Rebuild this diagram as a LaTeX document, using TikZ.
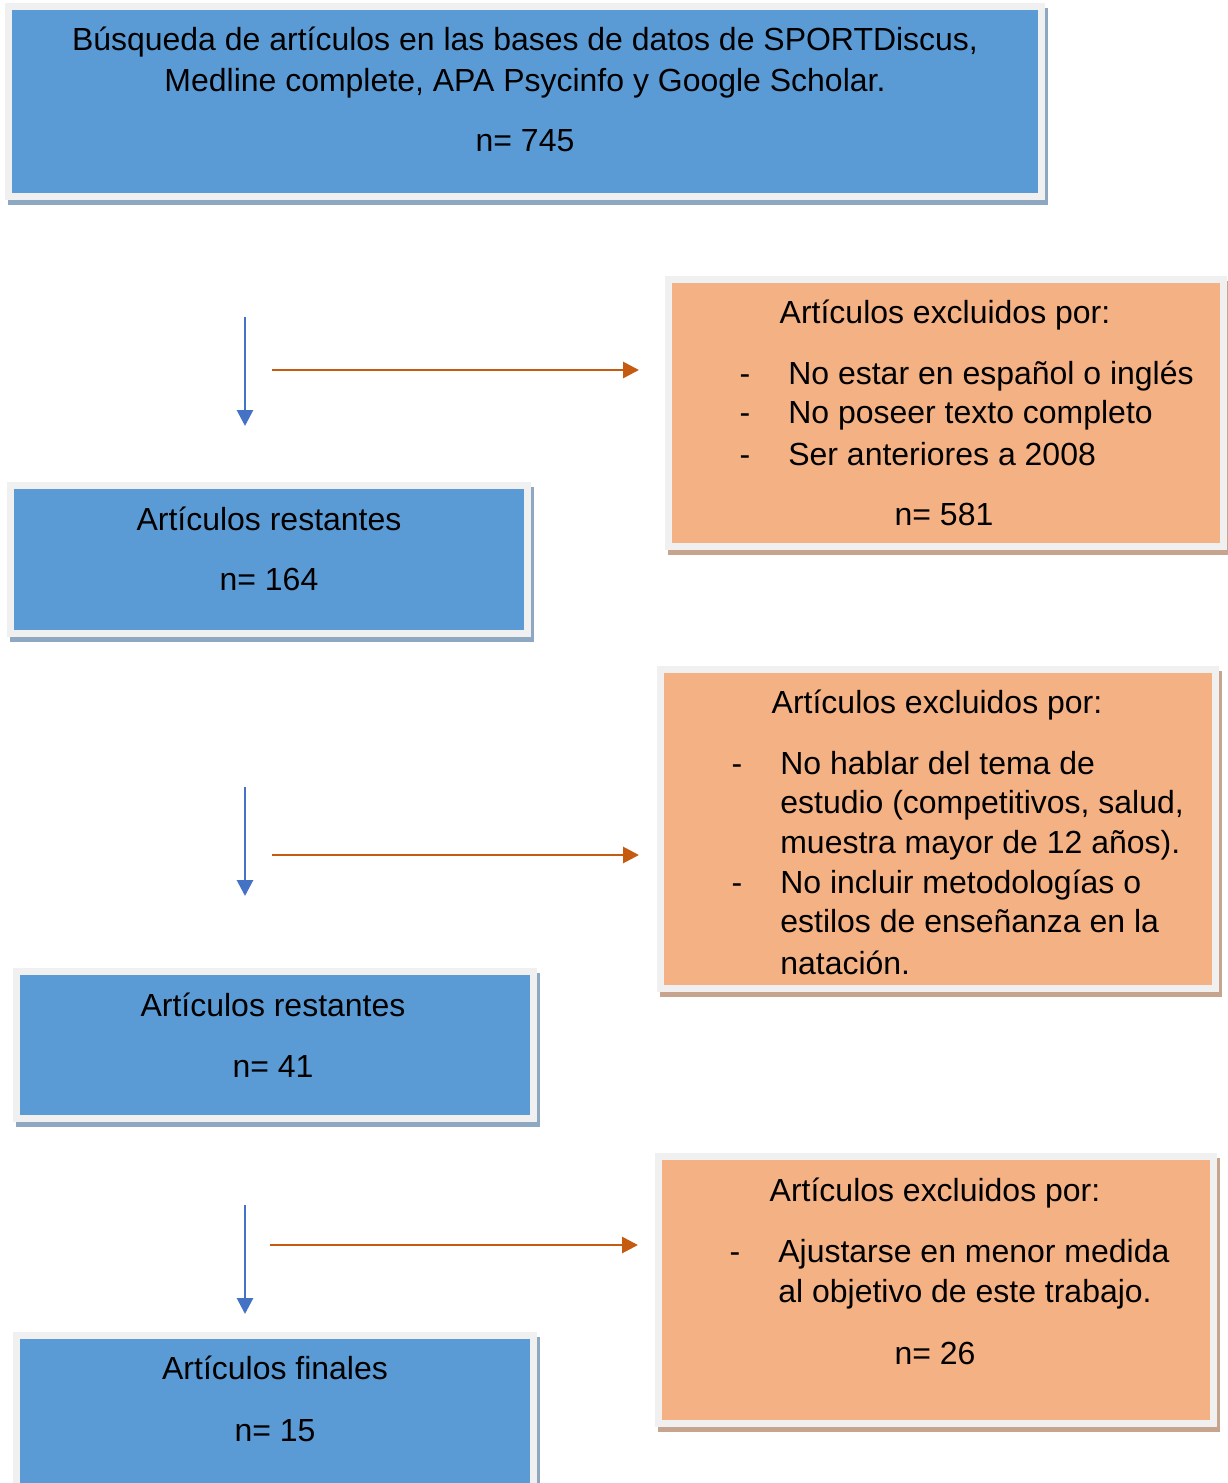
\documentclass[tikz,border=0pt]{standalone}
\usepackage{fontspec}
\setmainfont{Liberation Sans}
\usetikzlibrary{arrows.meta,fit}

\definecolor{boxblue}{HTML}{5B9BD5}
\definecolor{boxorange}{HTML}{F4B183}
\definecolor{framegray}{HTML}{F0F0F0}
\definecolor{shadeblue}{HTML}{8FA8C2}
\definecolor{shadeorange}{HTML}{C6A48E}
\definecolor{arrowblue}{HTML}{4472C4}
\definecolor{arroworange}{HTML}{C55A11}

\tikzset{
  boxframe/.style={draw=framegray, line width=4pt, inner sep=0pt},
  bluebox/.style={boxframe, fill=boxblue,
    preaction={draw=shadeblue, fill=shadeblue, line width=4pt,
      transform canvas={shift={(1.7pt,-2.8pt)}}}},
  orangebox/.style={boxframe, fill=boxorange,
    preaction={draw=shadeorange, fill=shadeorange, line width=4pt,
      transform canvas={shift={(1.7pt,-2.8pt)}}}},
  txt/.style={font=\fontsize{18.2pt}{22pt}\selectfont, inner sep=0pt, anchor=base},
  item/.style={txt, anchor=base west},
  down/.style={draw=arrowblue, line width=1.6pt, -{Triangle[width=9pt,length=9pt]}},
  toexcl/.style={draw=arroworange, line width=1.6pt, -{Triangle[width=9pt,length=9pt]}}
}

\begin{document}
\begin{tikzpicture}[x=0.02cm, y=-0.02cm]
\useasboundingbox (0,0) rectangle (1227,1483);

% Remaining articles
\node[bluebox, fit={(8.5,6.5) (1041.5,196.5)}] (search) {};
\node[bluebox, fit={(10.5,485.5) (527.5,633.5)}] (rest1) {};
\node[bluebox, fit={(16.5,971.5) (533.5,1118.5)}] (rest2) {};
\node[bluebox, fit={(16.5,1335.5) (533.5,1500)}] (final) {};

% Excluded articles
\node[orangebox, fit={(668.5,279.5) (1223.5,546.5)}] (excl1) {};
\node[orangebox, fit={(660.5,669.5) (1215.5,988.5)}] (excl2) {};
\node[orangebox, fit={(658.5,1156.5) (1213.5,1423.5)}] (excl3) {};

% Texts
\node[txt] (t1a) at (525,51) {Búsqueda de artículos en las bases de datos de SPORTDiscus,};
\node[txt] (t1b) at (525,92) {Medline complete, APA Psycinfo y Google Scholar.};
\node[txt] (t1n) at (525,152) {n= 745};

\node[txt] (t2a) at (269,530) {Artículos restantes};
\node[txt] (t2n) at (269,590) {n= 164};

\node[txt] (t3a) at (273,1016) {Artículos restantes};
\node[txt] (t3n) at (273,1077) {n= 41};

\node[txt] (t4a) at (275,1379) {Artículos finales};
\node[txt] (t4n) at (275,1441) {n= 15};

\node[txt] (e1a) at (945,323) {Artículos excluidos por:};
\node[txt] (e1d1) at (745,384) {-};
\node[txt] (e1d2) at (745,423) {-};
\node[txt] (e1d3) at (745,465) {-};
\node[item] (e1i1) at (788,384) {No estar en español o inglés};
\node[item] (e1i2) at (788,423) {No poseer texto completo};
\node[item] (e1i3) at (788,465) {Ser anteriores a 2008};
\node[txt] (e1n) at (944,525) {n= 581};

\node[txt] (e2a) at (937,713) {Artículos excluidos por:};
\node[txt] (e2d1) at (737,774) {-};
\node[txt] (e2d2) at (737,893) {-};
\node[item] (e2i1) at (780,774) {No hablar del tema de};
\node[item] (e2i2) at (780,813) {estudio (competitivos, salud,};
\node[item] (e2i3) at (780,853) {muestra mayor de 12 años).};
\node[item] (e2i4) at (780,893) {No incluir metodologías o};
\node[item] (e2i5) at (780,932) {estilos de enseñanza en la};
\node[item] (e2i6) at (780,974) {natación.};

\node[txt] (e3a) at (935,1201) {Artículos excluidos por:};
\node[txt] (e3d1) at (735,1262) {-};
\node[item] (e3i1) at (778,1262) {Ajustarse en menor medida};
\node[item] (e3i2) at (778,1302) {al objetivo de este trabajo.};
\node[txt] (e3n) at (935,1364) {n= 26};

% Arrows
\coordinate (d1s) at (245,317);  \coordinate (d1e) at (245,426);
\coordinate (d2s) at (245,787);  \coordinate (d2e) at (245,896);
\coordinate (d3s) at (245,1205); \coordinate (d3e) at (245,1314);
\coordinate (r1s) at (272,370);  \coordinate (r1e) at (639,370);
\coordinate (r2s) at (272,855);  \coordinate (r2e) at (639,855);
\coordinate (r3s) at (270,1245); \coordinate (r3e) at (638,1245);

\draw[down] (d1s) -- (d1e);
\draw[down] (d2s) -- (d2e);
\draw[down] (d3s) -- (d3e);
\draw[toexcl] (r1s) -- (r1e);
\draw[toexcl] (r2s) -- (r2e);
\draw[toexcl] (r3s) -- (r3e);

\end{tikzpicture}
\end{document}
